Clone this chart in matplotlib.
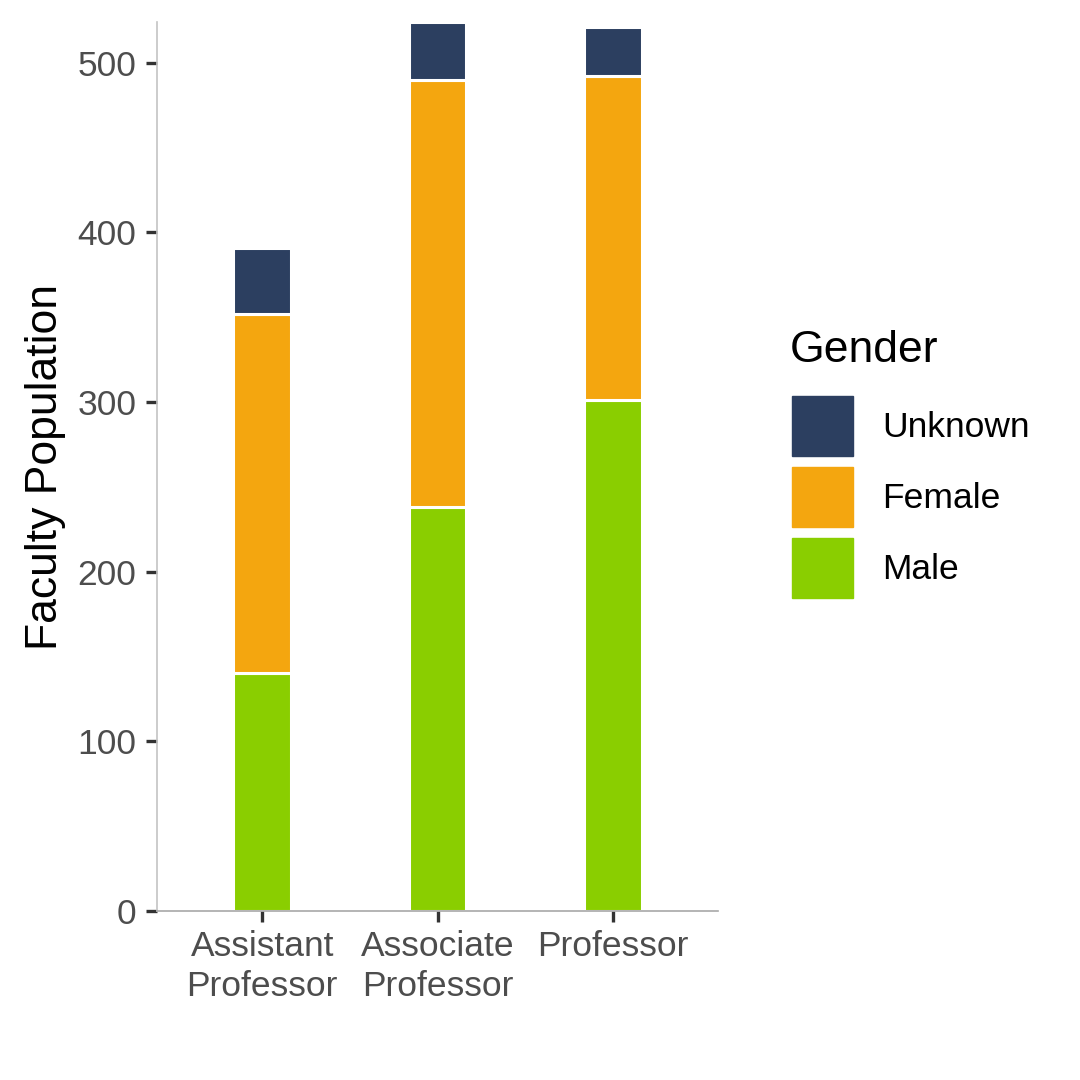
import numpy as np
import matplotlib
matplotlib.use("Agg")
import matplotlib.pyplot as plt
from matplotlib.patches import Patch

plt.rcParams['font.family'] = ['Liberation Sans', 'DejaVu Sans']

# data
ranks = ["Assistant\nProfessor", "Associate\nProfessor", "Professor"]
male = [140, 238, 301]
female = [212, 252, 191]
unknown = [39, 34, 29]

genders = ["Unknown", "Female", "Male"]
colors = {"Unknown": "#2C3F60", "Female": "#F4A60F", "Male": "#8ACE00"}

fig = plt.figure(figsize=(10.8, 10.8), dpi=100)
ax = fig.add_axes([0.1454, 0.1565, 0.5194, 0.8231])

x = np.arange(len(ranks))
male = np.array(male)
female = np.array(female)
unknown = np.array(unknown)
w = 0.33
lw = 2.2
ax.bar(x, male, w, color=colors["Male"], edgecolor="white", linewidth=lw)
ax.bar(x, female, w, bottom=male, color=colors["Female"], edgecolor="white", linewidth=lw)
ax.bar(x, unknown, w, bottom=male + female, color=colors["Unknown"], edgecolor="white", linewidth=lw)

totals = male + female + unknown
ax.set_xlim(-0.6, len(ranks) - 0.4)
ax.set_ylim(0, totals.max())
ax.set_yticks([0, 100, 200, 300, 400, 500])
ax.set_xticks(x)
ax.set_xticklabels(ranks, linespacing=1.25)

for s in ["top", "right"]:
    ax.spines[s].set_visible(False)
ax.spines["left"].set_color("#C4C4C4")
ax.spines["bottom"].set_color("#A8A8A8")
ax.spines["left"].set_linewidth(1.2)
ax.spines["bottom"].set_linewidth(1.2)

ax.tick_params(axis="both", colors="#333333", length=8, width=2.4, labelsize=25.5,
               labelcolor="#4D4D4D")
ax.tick_params(axis="y", pad=7)
ax.tick_params(axis="x", pad=6)

ax.set_ylabel("Faculty Population", fontsize=32, color="black", labelpad=8)

# legend title drawn on its own so the gap to the keys can be set
fig.text(790 / 1080, 1 - 350 / 1080, "Gender", fontsize=32, ha="left", va="center")
handles = [Patch(facecolor=colors[g], edgecolor=colors[g]) for g in genders]
leg = ax.legend(handles, genders, loc="upper left",
                bbox_to_anchor=(792 / 1080, 1 - 396 / 1080), bbox_transform=fig.transFigure,
                frameon=False, fontsize=25.5, borderpad=0,
                borderaxespad=0, handlelength=1.72, handleheight=2.24,
                labelspacing=0.3, handletextpad=0.82)

fig.savefig("out.png", dpi=100)
